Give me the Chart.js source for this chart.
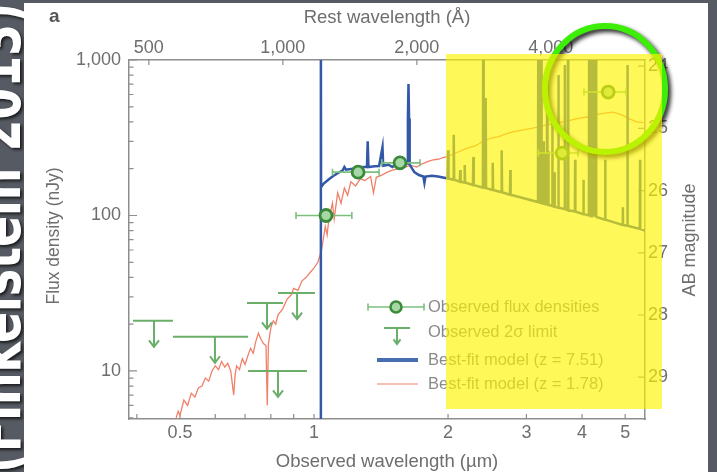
<!DOCTYPE html>
<html><head><meta charset="utf-8">
<script src="https://cdn.jsdelivr.net/npm/chart.js@4.4.0/dist/chart.umd.min.js"></script>
<style>
html,body{margin:0;padding:0;}
body{width:717px;height:472px;background:#565a62;position:relative;overflow:hidden;}
#panel{position:absolute;left:24px;top:3px;width:684px;height:469px;background:#fff;}
#c{position:absolute;left:0;top:0;width:717px;height:472px;}
</style></head><body>
<div id="panel"></div>
<canvas id="c" width="717" height="472"></canvas>
<script>
// ---------------- data ----------------
const zHigh = 7.51;
const xMinUm = 0.384, xMaxUm = 5.54;
const fluxMin = 4.91, fluxMax = 1000;
const abZeroNJy = 31.4;

const redWl = [0.485,0.495,0.50,0.51,0.52,0.53,0.54,0.55,0.56,0.57,0.58,0.59,0.60,0.61,0.62,0.63,0.64,0.65,0.66,0.665,0.67,0.68,0.69,0.70,0.71,0.72,0.73,0.74,0.75,0.76,0.77,0.78,0.785,0.79,0.80,0.81,0.82,0.83,0.85,0.87,0.89,0.90,0.92,0.94,0.96,0.98,1.00,1.02,1.04,1.06,1.07,1.08,1.10,1.11,1.13,1.15,1.17,1.19,1.21,1.24,1.27,1.30,1.34,1.36,1.38,1.42,1.46,1.50,1.55,1.60,1.65,1.70,1.75,1.80,1.85,1.90,1.95,2.00,2.10,2.20,2.30,2.40,2.50,2.60,2.70,2.80,2.95,3.10,3.30,3.50,3.70,3.90,4.10,4.30,4.50,4.70,4.90,5.10,5.30,5.50];
const redFlux = [4.5,5.5,5.2,6.5,6.0,7.2,6.8,7.8,8.0,9.0,8.6,10.0,10.8,10.2,11.5,10.6,11.2,10.0,7.0,9.5,10.8,10.2,12.0,11.0,12.5,14.0,13.0,15.5,17.5,16.0,15.0,14.5,6.0,15.0,19.0,21.0,20.0,23.0,25.0,29.0,31.0,34.0,33.0,38.0,40.0,43.0,46.0,50.0,60,85,75,95,120,95,140,120,150,135,165,155,172,168,178,140,176,182,190,196,200,205,210,205,215,222,228,230,236,240,255,270,280,300,315,322,335,345,355,365,380,393,405,420,430,445,455,462,445,420,400,395];

const blueWl = [1.034,1.036,1.037,1.05,1.08,1.10,1.13,1.16,1.17,1.18,1.22,1.25,1.29,1.315,1.32,1.325,1.37,1.40,1.425,1.43,1.47,1.50,1.53,1.58,1.62,1.625,1.63,1.635,1.64,1.68,1.72,1.76,1.77,1.78,1.84,1.90,1.96,
  1.995,2.00,2.005,2.055,2.06,2.065,2.125,2.13,2.135,2.175,2.18,2.185,2.275,2.28,2.285,2.395,2.40,2.405,2.425,2.43,2.435,2.515,2.52,2.525,2.635,2.64,2.645,2.755,2.76,2.765,
  3.185,3.19,3.195,3.215,3.22,3.225,3.235,3.24,3.245,3.275,3.28,3.285,3.305,3.31,3.315,3.335,3.34,3.345,3.355,3.36,3.365,3.425,3.43,3.435,3.465,3.47,3.475,3.535,3.54,3.545,3.655,3.66,3.665,3.715,3.72,3.725,3.855,3.86,3.865,
  4.025,4.03,4.035,4.145,4.15,4.155,4.195,4.20,4.21,4.22,4.23,4.24,4.25,4.26,4.27,4.28,4.29,4.30,4.305,4.505,4.51,4.515,4.935,4.94,4.945,5.055,5.06,5.065,5.395,5.40,5.405,5.60];
const blueFlux = [1,2000,152,160,171,178,187,195,205,197,200,203,205,205,300,205,207,208,275,209,212,205,214,213,216,420,700,420,212,190,182,178,162,178,180,178,175,
  173,263,173,170,330,170,165,196,165,163,211,163,157,238,157,151,2000,151,150,570,150,146,218,146,141,263,141,136,196,136,
  122,2000,122,121,350,121,120,2000,120,119,300,119,118,250,118,118,860,118,117,260,117,115,430,115,114,190,114,112,800,112,110,930,110,108,2000,108,106,228,106,
  102,170,102,100,2000,100,99,2000,99,2000,99,2000,98,2000,98,2000,98,2000,98,94,228,94,87,113,87,86,930,86,82,228,82,79];

const obsWl   = [1.064, 1.256, 1.56, 3.61, 4.58];
const obsFlux = [100, 190, 218, 252, 622];
const obsLo   = [0.911, 1.10, 1.42, 3.19, 4.04];
const obsHi   = [1.216, 1.40, 1.73, 3.92, 5.02];

const limWl   = [0.437, 0.599, 0.784, 0.83, 0.916];
const limFlux = [21.0, 16.6, 27.4, 10.0, 31.7];
const limLo   = [0.392, 0.482, 0.707, 0.711, 0.83];
const limHi   = [0.482, 0.711, 0.852, 0.964, 1.005];

const xTickVals = [0.5, 1, 2, 3, 4, 5];
const xMinorVals = [0.4, 0.6, 0.7, 0.8, 0.9];
const restTickVals = [500, 1000, 2000, 4000];
const fluxTickVals = [10, 100, 1000];
const magTickVals = [24, 25, 26, 27, 28, 29];

const legendLabels = ['Observed flux densities', 'Observed 2\u03c3 limit', 'Best-fit model (z = 7.51)', 'Best-fit model (z = 1.78)'];

// ---------------- style ----------------
const FONT = '"Liberation Sans", Arial, Helvetica, sans-serif';
const AXC = '#8e8e8e';
const TXT = '#6e6e6e';
const GREEN_DARK = '#3a8a3a', GREEN_FILL = '#a6d8a6', GREEN_BAR = '#7dbf7d', GREEN_LIM = '#6aae6a';
const BLUE = '#3358a8', RED = '#f0806a';

const toPts = (xs, ys) => xs.map((v, i) => ({x: v, y: ys[i]}));

function drawSide(ctx){
  ctx.save();
  ctx.beginPath(); ctx.rect(0, 0, 24, 472); ctx.clip();
  ctx.translate(20, 238);
  ctx.rotate(-Math.PI/2);
  ctx.scale(0.74, 1);
  ctx.font = 'bold 62px "DejaVu Sans", sans-serif';
  ctx.textAlign = 'center'; ctx.textBaseline = 'alphabetic';
  ctx.shadowColor = 'rgba(0,0,0,0.7)'; ctx.shadowBlur = 3; ctx.shadowOffsetX = 2; ctx.shadowOffsetY = 2;
  ctx.fillStyle = '#ffffff';
  ctx.fillText('(Finkelstein 2013)', 0, 0);
  ctx.restore();
}

function tickMarks(chart){
  const {ctx, chartArea: a, scales: s} = chart;
  ctx.save(); ctx.strokeStyle = AXC; ctx.lineWidth = 1.2; ctx.beginPath();
  for (let k = 0; k <= 3; k++) for (let m = 1; m <= 9; m++) {
    const v = m * Math.pow(10, k);
    if (v < s.y.min || v > s.y.max) continue;
    const p = s.y.getPixelForValue(v);
    const L = m === 1 ? 8 : 4.5;
    ctx.moveTo(a.left, p); ctx.lineTo(a.left + L, p);
  }
  xTickVals.concat(xMinorVals).forEach(v => { const p = s.x.getPixelForValue(v); ctx.moveTo(p, a.bottom); ctx.lineTo(p, a.bottom - 5); });
  restTickVals.forEach(v => { const p = s.xTop.getPixelForValue(v); ctx.moveTo(p, a.top); ctx.lineTo(p, a.top + 5); });
  magTickVals.forEach(v => { const p = s.yMag.getPixelForValue(v); ctx.moveTo(a.right, p); ctx.lineTo(a.right - 7, p); });
  ctx.stroke(); ctx.restore();
}

function errBar(ctx, x0, x1, y){
  ctx.moveTo(x0, y); ctx.lineTo(x1, y);
  ctx.moveTo(x0, y - 3.5); ctx.lineTo(x0, y + 3.5);
  ctx.moveTo(x1, y - 3.5); ctx.lineTo(x1, y + 3.5);
}
function limSym(ctx, x0, x1, xc, y, len, head){
  ctx.moveTo(x0, y); ctx.lineTo(x1, y);
  ctx.moveTo(xc, y); ctx.lineTo(xc, y + len);
  ctx.moveTo(xc - head, y + len - head * 1.3); ctx.lineTo(xc, y + len); ctx.lineTo(xc + head, y + len - head * 1.3);
}

function errBars(chart){
  const {ctx, scales: {x, y}} = chart;
  ctx.save(); ctx.strokeStyle = GREEN_BAR; ctx.lineWidth = 1.6; ctx.beginPath();
  obsWl.forEach((w, i) => errBar(ctx, x.getPixelForValue(obsLo[i]), x.getPixelForValue(obsHi[i]), y.getPixelForValue(obsFlux[i])));
  ctx.stroke(); ctx.restore();
}

function limits(chart){
  const {ctx, scales: {x, y}} = chart;
  ctx.save(); ctx.strokeStyle = GREEN_LIM; ctx.lineWidth = 2; ctx.beginPath();
  limWl.forEach((w, i) => limSym(ctx, x.getPixelForValue(limLo[i]), x.getPixelForValue(limHi[i]), x.getPixelForValue(w), y.getPixelForValue(limFlux[i]), 26, 5));
  ctx.stroke(); ctx.restore();
}

function legend(chart){
  const ctx = chart.ctx;
  const sx = 396, tx = 428, rows = [307, 332, 360, 384];
  ctx.save();
  ctx.strokeStyle = GREEN_BAR; ctx.lineWidth = 1.6; ctx.beginPath(); errBar(ctx, 368, 424, rows[0]); ctx.stroke();
  ctx.beginPath(); ctx.arc(sx, rows[0], 5.5, 0, Math.PI*2); ctx.fillStyle = GREEN_FILL; ctx.fill();
  ctx.strokeStyle = GREEN_DARK; ctx.lineWidth = 2.5; ctx.stroke();
  ctx.strokeStyle = GREEN_LIM; ctx.lineWidth = 2; ctx.beginPath(); limSym(ctx, 384, 410, 397, rows[1] - 4, 16, 3.5); ctx.stroke();
  ctx.strokeStyle = '#4a6cb0'; ctx.lineWidth = 4; ctx.beginPath(); ctx.moveTo(377, rows[2]); ctx.lineTo(418, rows[2]); ctx.stroke();
  ctx.strokeStyle = '#f4a898'; ctx.lineWidth = 1.5; ctx.beginPath(); ctx.moveTo(377, rows[3]); ctx.lineTo(418, rows[3]); ctx.stroke();
  ctx.fillStyle = '#8a8a8a'; ctx.font = '16.5px ' + FONT; ctx.textAlign = 'left'; ctx.textBaseline = 'middle';
  legendLabels.forEach((t, i) => ctx.fillText(t, tx, rows[i]));
  ctx.restore();
}

function extras(chart){
  const ctx = chart.ctx;
  ctx.save();
  ctx.fillStyle = '#555'; ctx.font = 'bold 19px ' + FONT; ctx.textAlign = 'left'; ctx.textBaseline = 'middle';
  ctx.fillText('a', 49, 17);
  ctx.restore();
  // axis titles drawn rotated, reading bottom to top
  [['Flux density (nJy)', 54, 236, 17.5], ['AB magnitude', 690, 240, 18]].forEach(([t, x, y, fs]) => {
    ctx.save(); ctx.translate(x, y); ctx.rotate(-Math.PI/2);
    ctx.font = fs + 'px ' + FONT; ctx.fillStyle = TXT; ctx.textAlign = 'center'; ctx.textBaseline = 'middle';
    ctx.fillText(t, 0, 0); ctx.restore();
  });
  // green circle annotation
  ctx.save();
  ctx.shadowColor = 'rgba(0,0,0,0.85)'; ctx.shadowBlur = 4; ctx.shadowOffsetX = 3; ctx.shadowOffsetY = 3;
  ctx.strokeStyle = '#3cee08'; ctx.lineWidth = 6;
  ctx.beginPath(); ctx.ellipse(605, 89, 60, 63, 0, 0, Math.PI*2); ctx.stroke();
  ctx.restore();
  // yellow highlight
  ctx.save(); ctx.fillStyle = 'rgba(255,245,0,0.65)'; ctx.fillRect(446, 54, 216, 355); ctx.restore();
}

const overlay = {
  id: 'overlay',
  beforeDraw(chart){ drawSide(chart.ctx); },
  beforeDatasetsDraw(chart){ tickMarks(chart); },
  beforeDatasetDraw(chart, args){ if (args.index === 0) errBars(chart); },
  afterDatasetsDraw(chart){ limits(chart); legend(chart); },
  afterDraw(chart){ extras(chart); }
};

const tickFont = {family: FONT, size: 18};
const gridOpts = {display: true, drawOnChartArea: false, drawTicks: false};
const borderOpts = {display: true, color: AXC, width: 1.5};

new Chart(document.getElementById('c'), {
  type: 'scatter',
  data: {
    datasets: [
      {label: 'Observed flux densities', data: toPts(obsWl, obsFlux), order: 0, xAxisID: 'x', yAxisID: 'y',
       pointRadius: 6, pointBorderWidth: 2.8, pointBorderColor: GREEN_DARK, pointBackgroundColor: GREEN_FILL},
      {label: 'Best-fit model (z = 7.51)', data: toPts(blueWl, blueFlux), order: 1, xAxisID: 'x', yAxisID: 'y',
       showLine: true, borderColor: BLUE, borderWidth: 2.5, pointRadius: 0, tension: 0},
      {label: 'Best-fit model (z = 1.78)', data: toPts(redWl, redFlux), order: 2, xAxisID: 'x', yAxisID: 'y',
       showLine: true, borderColor: RED, borderWidth: 1.3, pointRadius: 0, tension: 0}
    ]
  },
  options: {
    responsive: false, animation: false, devicePixelRatio: 1,
    layout: {padding: 0},
    plugins: {legend: {display: false}, tooltip: {enabled: false}},
    scales: {
      x: {type: 'logarithmic', position: 'bottom', min: xMinUm, max: xMaxUm, bounds: 'data',
          grid: gridOpts, border: borderOpts,
          afterBuildTicks: s => { s.ticks = xTickVals.map(v => ({value: v})); },
          afterFit: s => { s.height = 53; },
          ticks: {autoSkip: false, maxRotation: 0, minRotation: 0, padding: 3, font: tickFont, color: TXT, callback: v => String(v)},
          title: {display: true, text: 'Observed wavelength (\u00b5m)', color: TXT, font: {family: FONT, size: 18.5, lineHeight: 1}, padding: {top: 0, bottom: 0.5}}},
      xTop: {type: 'logarithmic', position: 'top', min: xMinUm * 1e4 / (1 + zHigh), max: xMaxUm * 1e4 / (1 + zHigh), bounds: 'data',
          grid: gridOpts, border: borderOpts,
          afterBuildTicks: s => { s.ticks = restTickVals.map(v => ({value: v})); },
          afterFit: s => { s.height = 60; },
          ticks: {autoSkip: false, maxRotation: 0, minRotation: 0, padding: 1, font: tickFont, color: TXT, callback: v => Number(v).toLocaleString('en-US')},
          title: {display: true, text: 'Rest wavelength (\u00c5)', color: TXT, font: {family: FONT, size: 18.5, lineHeight: 1}, padding: {top: 8.5, bottom: 0}}},
      y: {type: 'logarithmic', position: 'left', min: fluxMin, max: fluxMax, bounds: 'data',
          grid: gridOpts, border: borderOpts,
          afterBuildTicks: s => { s.ticks = fluxTickVals.map(v => ({value: v})); },
          afterFit: s => { s.width = 129; },
          ticks: {autoSkip: false, padding: 8, font: tickFont, color: TXT, callback: v => Number(v).toLocaleString('en-US')}},
      yMag: {type: 'linear', position: 'right', reverse: true, bounds: 'data',
          min: abZeroNJy - 2.5 * Math.log10(fluxMax), max: abZeroNJy - 2.5 * Math.log10(fluxMin),
          grid: gridOpts, border: borderOpts,
          afterBuildTicks: s => { s.ticks = magTickVals.map(v => ({value: v})); },
          afterFit: s => { s.width = 72; },
          ticks: {autoSkip: false, padding: 3, font: tickFont, color: TXT, callback: v => String(v)}}
    }
  },
  plugins: [overlay]
});
</script></body></html>
